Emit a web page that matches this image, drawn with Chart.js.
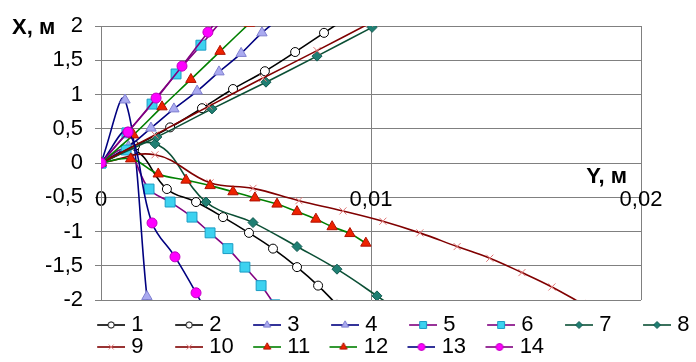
<!DOCTYPE html>
<html>
<head>
<meta charset="utf-8">
<script src="https://cdn.jsdelivr.net/npm/chart.js@4.4.0/dist/chart.umd.min.js"></script>
<style>
  html, body { margin: 0; padding: 0; background: #fff; }
  #wrap { width: 696px; height: 362px; }
</style>
</head>
<body>
<div id="wrap"><canvas id="trajChart" width="696" height="362"></canvas></div>
<script>
// series names, as in the legend
const seriesNames = ['1', '2', '3', '4', '5', '6', '7', '8', '9', '10', '11', '12', '13', '14'];

// points are [Y, X] in metres
const s1 = [[0, 0], [0.00122, 0.19], [0.00244, -0.38], [0.00352, -0.57], [0.00452, -0.79], [0.00548, -1.02], [0.00637, -1.25], [0.00726, -1.52], [0.00804, -1.79], [0.00874, -2.07]];
const s2 = [[0, 0], [0.00126, 0.25], [0.00256, 0.52], [0.00374, 0.80], [0.00489, 1.08], [0.00607, 1.34], [0.00719, 1.62], [0.00826, 1.90], [0.0093, 2.17]];
const s3 = [[0, 0], [0.00089, 0.92], [0.0017, -1.95], [0.00178, -2.4]];
const s4 = [[0, 0], [0.00102, 0.24], [0.00185, 0.51], [0.0027, 0.79], [0.00356, 1.05], [0.00437, 1.33], [0.00519, 1.60], [0.00596, 1.90], [0.0068, 2.17]];
const s5 = [[0, 0], [0.00093, 0.19], [0.00178, -0.38], [0.00256, -0.57], [0.00337, -0.79], [0.00404, -1.02], [0.0047, -1.25], [0.00533, -1.52], [0.00593, -1.79], [0.00644, -2.07]];
const s6 = [[0, 0], [0.00096, 0.44], [0.00189, 0.86], [0.00278, 1.30], [0.0037, 1.72], [0.0046, 2.14]];
const s7 = [[0, 0], [0.002, 0.28], [0.00389, -0.57], [0.00563, -0.87], [0.00726, -1.22], [0.00874, -1.55], [0.01022, -1.94], [0.0117, -2.35]];
const s8 = [[0, 0], [0.00207, 0.38], [0.00411, 0.79], [0.00611, 1.18], [0.008, 1.56], [0.01004, 1.98], [0.012, 2.38]];
const s9 = [[0, 0], [0.002, 0.12], [0.00404, -0.29], [0.00563, -0.37], [0.00733, -0.55], [0.00896, -0.70], [0.01044, -0.85], [0.01181, -1.02], [0.01319, -1.22], [0.0144, -1.39], [0.01559, -1.60], [0.0167, -1.81], [0.0178, -2.05]];
const s10 = [[0, 0], [0.002, 0.41], [0.004, 0.83], [0.006, 1.24], [0.008, 1.64], [0.00995, 2.04], [0.0119, 2.44]];
const s11 = [[0, 0], [0.0011, 0.06], [0.00212, -0.16], [0.00315, -0.25], [0.00404, -0.33], [0.00489, -0.42], [0.0057, -0.51], [0.00652, -0.60], [0.00726, -0.71], [0.00796, -0.82], [0.00856, -0.93], [0.00922, -1.03], [0.00981, -1.17]];
const s12 = [[0, 0], [0.0012, 0.41], [0.00226, 0.82], [0.00333, 1.22], [0.00441, 1.63], [0.0055, 2.04]];
const s13 = [[0, 0], [0.001, 0.45], [0.00189, -0.875], [0.00274, -1.37], [0.00352, -1.895], [0.0042, -2.4]];
const s14 = [[0, 0], [0.001, 0.452], [0.00204, 0.948], [0.003, 1.414], [0.00396, 1.91], [0.00493, 2.39]];
const allSeries = [s1, s2, s3, s4, s5, s6, s7, s8, s9, s10, s11, s12, s13, s14];

// axis ranges / steps
const yRange = [0, 0.02], yStep = 0.01;
const xRange = [-2, 2], xStep = 0.5;

// look of each pair of series
const lineColor = ['#000000', '#000000', '#000080', '#000080', '#800080', '#800080', '#0b4f35', '#0b4f35',
  '#800000', '#800000', '#008000', '#008000', '#000080', '#800080'];
const markStyle = ['circle', 'circle', 'triangle', 'triangle', 'rect', 'rect', 'rectRot', 'rectRot',
  'crossRot', 'crossRot', 'triangle', 'triangle', 'circle', 'circle'];
const markFill = ['#ffffff', '#ffffff', '#aaaaf0', '#aaaaf0', '#3cd2f0', '#3cd2f0', '#1f7f73', '#1f7f73',
  '#e07878', '#e07878', '#ee2200', '#ee2200', '#ff00ff', '#ff00ff'];
const markEdge = ['#000000', '#000000', '#8080d0', '#8080d0', '#1a9cc4', '#1a9cc4', '#125a50', '#125a50',
  '#e07878', '#e07878', '#b01000', '#b01000', '#c000c0', '#c000c0'];
const markSize = [4.5, 4.5, 6, 6, 7, 7, 5, 5, 5, 5, 6, 6, 5, 5];

const FONT = '"Liberation Sans", Arial, sans-serif';
Chart.defaults.font.family = FONT;
Chart.defaults.color = '#000';

const fmt = v => String(Math.round(v * 1000) / 1000).replace('.', ',');

const datasets = allSeries.map((pts, i) => ({
  label: seriesNames[i],
  data: pts.map(p => ({ x: p[0], y: p[1] })),
  showLine: true,
  tension: 0.4,
  borderColor: lineColor[i],
  borderWidth: 1.6,
  pointStyle: markStyle[i],
  pointRadius: markSize[i],
  pointBackgroundColor: markFill[i],
  pointBorderColor: markEdge[i],
  pointBorderWidth: 1,
  order: seriesNames.length - 1 - i
}));

// legend icon: short line with the marker in the middle
function makeIcon(i) {
  const c = document.createElement('canvas');
  c.width = 40; c.height = 16;
  const g = c.getContext('2d');
  g.strokeStyle = lineColor[i];
  g.lineWidth = 1.6;
  g.beginPath(); g.moveTo(12, 8); g.lineTo(40, 8); g.stroke();
  g.fillStyle = markFill[i];
  g.strokeStyle = markEdge[i];
  g.lineWidth = 1;
  Chart.helpers.drawPoint(g, { pointStyle: markStyle[i], radius: markSize[i] * 0.7, rotation: 0, borderWidth: 1 }, 26, 8);
  return c;
}
const icons = seriesNames.map((n, i) => makeIcon(i));

const axisTitles = {
  id: 'axisTitles',
  afterDraw(chart) {
    const ctx = chart.ctx;
    ctx.save();
    ctx.font = 'bold 22px ' + FONT;
    ctx.fillStyle = '#000';
    ctx.textBaseline = 'middle';
    ctx.textAlign = 'left';
    ctx.fillText('X, м', 12, 28);
    ctx.textAlign = 'right';
    ctx.fillText('Y, м', 627, 177);
    ctx.restore();
  }
};

// put the legend where the original sits
const placeLegend = {
  id: 'placeLegend',
  afterLayout(chart) {
    const lg = chart.legend;
    lg.left = 90; lg.right = 720;
    lg.top = 314; lg.bottom = 362;
  }
};

new Chart(document.getElementById('trajChart'), {
  type: 'scatter',
  data: { datasets },
  options: {
    responsive: false,
    animation: false,
    devicePixelRatio: 1,
    layout: { autoPadding: false, padding: { left: 0, right: 55, top: 26, bottom: 8 } },
    scales: {
      x: {
        type: 'linear',
        min: yRange[0], max: yRange[1],
        position: { y: 0 },
        ticks: { stepSize: yStep, padding: 19, maxRotation: 0, autoSkip: false, font: { size: 22 }, color: '#000', callback: fmt },
        grid: { color: '#808080', lineWidth: 1, tickLength: 5 },
        border: { color: '#808080' }
      },
      y: {
        type: 'linear',
        min: xRange[0], max: xRange[1],
        ticks: { stepSize: xStep, padding: 12, font: { size: 22 }, color: '#000', callback: fmt },
        grid: { color: '#808080', lineWidth: 1, tickLength: 6 },
        border: { color: '#808080' },
        afterFit(s) { s.width = 101; }
      }
    },
    plugins: {
      tooltip: { enabled: false },
      legend: {
        position: 'bottom',
        align: 'start',
        labels: {
          usePointStyle: true,
          pointStyleWidth: 30.3,
          padding: 0,
          font: { size: 22 },
          color: '#000',
          generateLabels(chart) {
            const items = Chart.defaults.plugins.legend.labels.generateLabels(chart);
            items.sort((a, b) => a.datasetIndex - b.datasetIndex);
            items.forEach(it => {
              it.pointStyle = icons[it.datasetIndex];
              it.text = it.text.length === 1 ? it.text + '    ' : it.text + '  ';
            });
            return items;
          }
        }
      }
    }
  },
  plugins: [axisTitles, placeLegend]
});
</script>
</body>
</html>
